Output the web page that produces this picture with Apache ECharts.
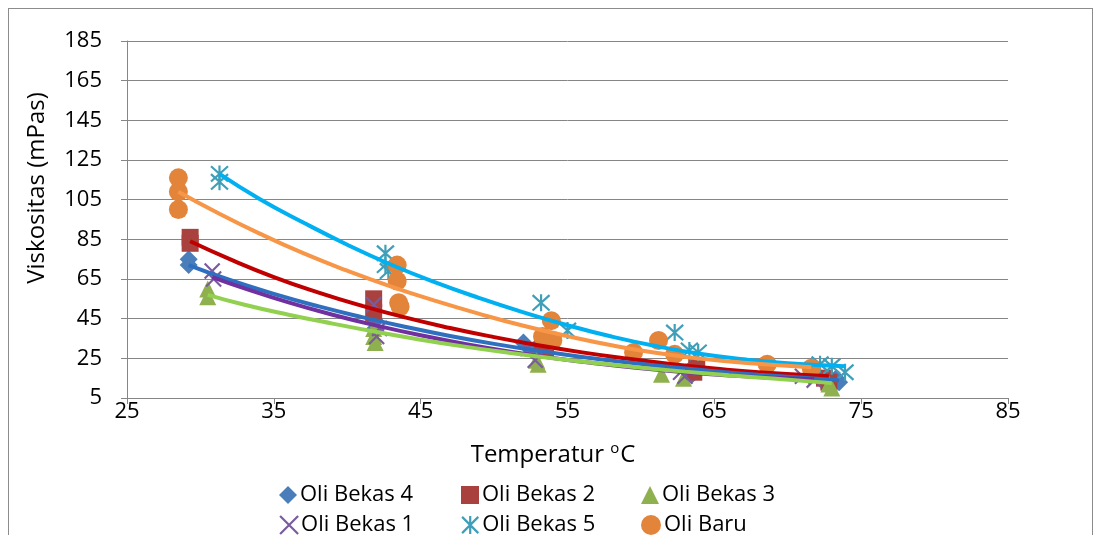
<!DOCTYPE html>
<html>
<head>
<meta charset="utf-8">
<script src="https://cdn.jsdelivr.net/npm/echarts@6/dist/echarts.min.js"></script>
<style>
  html, body { margin: 0; padding: 0; background: #fff; }
  #frame { position: absolute; left: 8px; top: 8px; width: 1085px; height: 560px; border: 1px solid #8c8c8c; box-sizing: border-box; }
  #chart { position: absolute; left: 0; top: 0; width: 1102px; height: 535px; }
</style>
</head>
<body>
<div id="frame"></div>
<div id="chart"></div>
<script>
// Measured viscosity (mPas) against temperature (°C), several replicate readings per step
const oliBekas4 = [[29.2,75],[29.2,72],[41.9,44],[41.9,40],[52.0,33],[52.6,29],[63.3,19],[63.5,17],[73.3,15],[73.5,13]];
const oliBekas2 = [[29.3,86],[29.3,83],[41.8,55],[41.8,48],[53.3,33],[53.5,30],[63.8,21],[63.6,18],[72.5,15],[72.8,13]];
const oliBekas3 = [[30.5,60],[30.5,56],[41.8,40],[41.8,36],[41.9,33],[52.9,24],[53.0,22],[61.4,17],[62.9,15],[72.8,12],[73.0,10]];
const oliBekas1 = [[30.8,69],[30.9,65],[41.8,52],[42.2,40],[42.0,36],[52.3,30],[52.8,24],[62.7,18],[63.0,16],[71.0,16],[71.8,14]];
const oliBekas5 = [[31.3,118],[31.3,114],[42.6,78],[42.6,72],[42.8,69],[53.2,53],[55.0,39],[62.3,38],[63.3,29],[63.9,28],[72.2,22],[73.0,21],[73.9,18]];
const oliBaru   = [[28.5,116],[28.5,109],[28.5,100],[43.4,72],[43.4,64],[43.5,53],[43.6,51],[53.9,44],[53.3,36],[54.0,34],[61.2,34],[59.5,28],[62.3,27],[68.6,22],[71.6,20]];

// Trend curves through each series
const trendBekas5 = [[31.3,118],[34,105.5],[37,93.5],[40,82.3],[43,72.2],[46,63.3],[49,55.4],[52,48.2],[55,41.7],[58,36],[61,31.2],[64,27.3],[67,24.5],[70,22.5],[73.9,21]];
const trendBaru   = [[28.5,109],[31,99],[34,88],[37,78],[40,69.2],[43,61.2],[46,54],[49,47.4],[52,41.4],[55,36.2],[58,31.6],[61,27.8],[64,24.9],[67,22.8],[71.6,20.5]];
const trendBekas2 = [[29.3,84],[32,75],[35,66],[38,58.3],[41,51.5],[44,45.5],[47,40.3],[50,35.7],[53,31.6],[56,28],[59,24.9],[62,22.2],[65,19.9],[68,18],[72.8,16]];
const trendBekas4 = [[29.2,72],[32,64.5],[35,57.5],[38,51.3],[41,45.8],[44,40.8],[47,36.3],[50,32.3],[53,28.8],[56,25.7],[59,23],[62,20.6],[65,18.5],[68,16.7],[73.5,14]];
const trendBekas1 = [[30.8,66],[33,60.3],[36,53.2],[39,47],[42,41.5],[45,36.6],[48,32.3],[51,28.5],[54,25.2],[57,22.4],[60,20],[63,18],[66,16.4],[69,15.2],[71.8,14.5]];
const trendBekas3 = [[30.5,57],[33,52],[36,47],[39,42.5],[42,38.3],[45,34.4],[48,30.9],[51,27.8],[54,25],[57,22.5],[60,20.3],[63,18.3],[66,16.5],[69,14.8],[73,12.5]];

const xTicks = [25, 35, 45, 55, 65, 75, 85];
const yTicks = [5, 25, 45, 65, 85, 105, 125, 145, 165, 185];

const FONT = '"Open Sans", "Noto Sans", sans-serif';
const CROSS = 'path://M0,0L20,20M20,0L0,20';
const STAR = 'path://M10,0L10,20M1,1L19,19M19,1L1,19';

const pointSeries = [
  { name: 'Oli Bekas 4', data: oliBekas4, symbol: 'diamond', size: 18, color: '#4a7ebb' },
  { name: 'Oli Bekas 2', data: oliBekas2, symbol: 'rect', size: 17, color: '#a9423f' },
  { name: 'Oli Bekas 3', data: oliBekas3, symbol: 'triangle', size: 17, color: '#8fb04e' },
  { name: 'Oli Bekas 1', data: oliBekas1, symbol: CROSS, size: 15, color: '#7a5c9e', stroke: true },
  { name: 'Oli Bekas 5', data: oliBekas5, symbol: STAR, size: 17, color: '#3f9fb9', stroke: true },
  { name: 'Oli Baru', data: oliBaru, symbol: 'circle', size: 19, color: '#e3843b' }
];

const trendSeries = [
  { data: trendBekas5, color: '#00b0f0' },
  { data: trendBaru, color: '#f79646' },
  { data: trendBekas2, color: '#c00000' },
  { data: trendBekas4, color: '#2f6fbf' },
  { data: trendBekas1, color: '#7030a0' },
  { data: trendBekas3, color: '#92d050' }
];

function itemStyleOf(s) {
  return s.stroke
    ? { color: 'rgba(0,0,0,0)', borderColor: s.color, borderWidth: 2.2, opacity: 1 }
    : { color: s.color, borderWidth: 0, opacity: 1 };
}

const series = [];
pointSeries.forEach(s => {
  series.push({
    type: 'scatter', name: s.name, data: s.data,
    symbol: s.symbol, symbolSize: s.size,
    itemStyle: itemStyleOf(s), z: 2
  });
});
trendSeries.forEach(t => {
  series.push({
    type: 'line', data: t.data, smooth: 0.5, showSymbol: false, symbol: 'none',
    lineStyle: { color: t.color, width: 4 }, z: 3, silent: true
  });
});

// legend: two rows of three entries
const legendSlots = [[274, 479], [456, 479], [636, 479], [274, 509], [456, 509], [636, 509]];
const legends = pointSeries.map((s, i) => ({
  data: [{ name: s.name, icon: s.symbol, itemStyle: itemStyleOf(s) }],
  left: legendSlots[i][0], top: legendSlots[i][1],
  itemWidth: s.symbol === 'circle' ? 20 : 18, itemHeight: s.symbol === 'circle' ? 20 : 18, itemGap: 0,
  textStyle: { fontFamily: FONT, fontSize: 22, color: '#000', padding: [0, 0, 0, -2] },
  selectedMode: false
}));

const chart = echarts.init(document.getElementById('chart'), null, { renderer: 'canvas' });
chart.setOption({
  animation: false,
  backgroundColor: 'transparent',
  grid: { left: 127, right: 94, top: 41, bottom: 137, containLabel: false },
  xAxis: {
    type: 'value', min: xTicks[0], max: xTicks[xTicks.length - 1], interval: 10,
    axisLine: { show: true, lineStyle: { color: '#868686', width: 1 } },
    axisTick: { show: true, length: 6, lineStyle: { color: '#868686' } },
    splitLine: { show: false },
    axisLabel: { fontFamily: FONT, fontSize: 22, color: '#000', margin: 3 }
  },
  yAxis: {
    type: 'value', min: yTicks[0], max: yTicks[yTicks.length - 1], interval: 20,
    axisLine: { show: true, lineStyle: { color: '#868686', width: 1 } },
    axisTick: { show: true, length: 6, lineStyle: { color: '#868686' } },
    splitLine: { show: true, lineStyle: { color: '#868686', width: 1 } },
    axisLabel: { fontFamily: FONT, fontSize: 22, color: '#000', margin: 25 }
  },
  legend: legends,
  graphic: [
    {
      type: 'text', x: 37, y: 188, rotation: Math.PI / 2,
      style: { text: 'Viskositas (mPas)', font: '24px ' + FONT, fill: '#000', align: 'center', verticalAlign: 'middle' }
    },
    {
      type: 'text', x: 553, y: 455,
      style: {
        text: '{t|Temperatur }{s|o}{t|C}', align: 'center', verticalAlign: 'middle',
        rich: {
          t: { fontFamily: FONT, fontSize: 24, fill: '#000', color: '#000' },
          s: { fontFamily: FONT, fontSize: 15, fill: '#000', color: '#000', verticalAlign: 'top', padding: [0, 1, 12, 0] }
        }
      }
    }
  ],
  series: series
});
</script>
</body>
</html>
